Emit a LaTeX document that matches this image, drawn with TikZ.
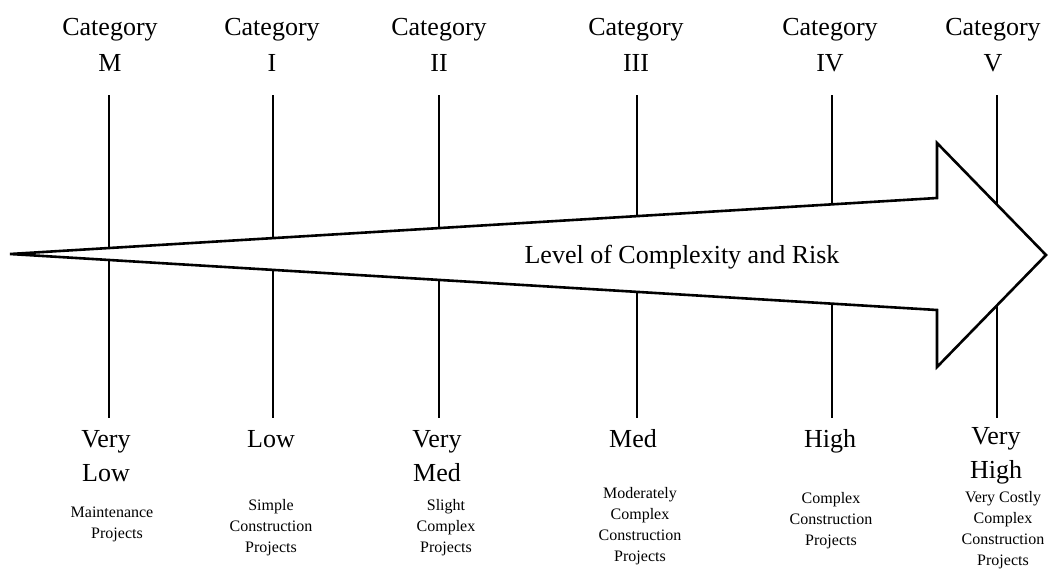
\documentclass[tikz,border=0pt]{standalone}
\usepackage{fontspec}
\setmainfont{Liberation Serif}
\begin{document}
\begin{tikzpicture}[x=1pt,y=-1pt,
  cattext/.style={inner sep=0pt, anchor=base, font=\fontsize{26}{35.5}\selectfont},
  leveltext/.style={inner sep=0pt, anchor=base, font=\fontsize{26}{34}\selectfont},
  desctext/.style={inner sep=0pt, anchor=base, font=\fontsize{16}{21}\selectfont},
  tick/.style={line width=1.6pt},
  bigarrow/.style={draw, fill=white, line width=2.6pt}]
\useasboundingbox (0,0) rectangle (1052,570);

% category headings
\node[cattext] (catM)   at (110,35.5) {\begin{tabular}[t]{@{}c@{}}Category\\M\end{tabular}};
\node[cattext] (catI)   at (272,35.5) {\begin{tabular}[t]{@{}c@{}}Category\\I\end{tabular}};
\node[cattext] (catII)  at (439,35.5) {\begin{tabular}[t]{@{}c@{}}Category\\II\end{tabular}};
\node[cattext] (catIII) at (636,35.5) {\begin{tabular}[t]{@{}c@{}}Category\\III\end{tabular}};
\node[cattext] (catIV)  at (830,35.5) {\begin{tabular}[t]{@{}c@{}}Category\\IV\end{tabular}};
\node[cattext] (catV)   at (993,35.5) {\begin{tabular}[t]{@{}c@{}}Category\\V\end{tabular}};

% risk levels
\node[leveltext] (lvM)   at (106,447) {\begin{tabular}[t]{@{}c@{}}Very\\Low\end{tabular}};
\node[leveltext] (lvI)   at (271,447) {Low};
\node[leveltext] (lvII)  at (437,447) {\begin{tabular}[t]{@{}c@{}}Very\\Med\end{tabular}};
\node[leveltext] (lvIII) at (633,447) {Med};
\node[leveltext] (lvIV)  at (830,447) {High};
\node[leveltext] (lvV)   at (996,444) {\begin{tabular}[t]{@{}c@{}}Very\\High\end{tabular}};

% project descriptions
\node[desctext] (dsM)   at (112,517) {\begin{tabular}[t]{@{}c@{}}Maintenance\\\hspace*{10pt}Projects\end{tabular}};
\node[desctext] (dsI)   at (271,510) {\begin{tabular}[t]{@{}c@{}}Simple\\Construction\\Projects\end{tabular}};
\node[desctext] (dsII)  at (446,510) {\begin{tabular}[t]{@{}c@{}}Slight\\Complex\\Projects\end{tabular}};
\node[desctext] (dsIII) at (640,498.5) {\begin{tabular}[t]{@{}c@{}}Moderately\\Complex\\Construction\\Projects\end{tabular}};
\node[desctext] (dsIV)  at (831,503) {\begin{tabular}[t]{@{}c@{}}Complex\\Construction\\Projects\end{tabular}};
\node[desctext] (dsV)   at (1003,502) {\begin{tabular}[t]{@{}c@{}}Very Costly\\Complex\\Construction\\Projects\end{tabular}};

% end points of the category lines
\foreach \n/\x in {M/109, I/273, II/439, III/637, IV/832, V/997} {
  \coordinate (top\n) at (\x,95);
  \coordinate (bot\n) at (\x,418);
}
\foreach \n in {M, I, II, III, IV, V}
  \draw[tick] (top\n) -- (bot\n);

% the wedge-shaped arrow drawn over the lines
\coordinate (tail)   at (10,254);
\coordinate (shaftT) at (937,198);
\coordinate (headT)  at (937,143);
\coordinate (tip)    at (1046,255);
\coordinate (headB)  at (937,367);
\coordinate (shaftB) at (937,310);
\draw[bigarrow] (tail) -- (shaftT) -- (headT) -- (tip) -- (headB) -- (shaftB) -- cycle;

\node[leveltext] (axis) at (682,263) {Level of Complexity and Risk};
\end{tikzpicture}
\end{document}
